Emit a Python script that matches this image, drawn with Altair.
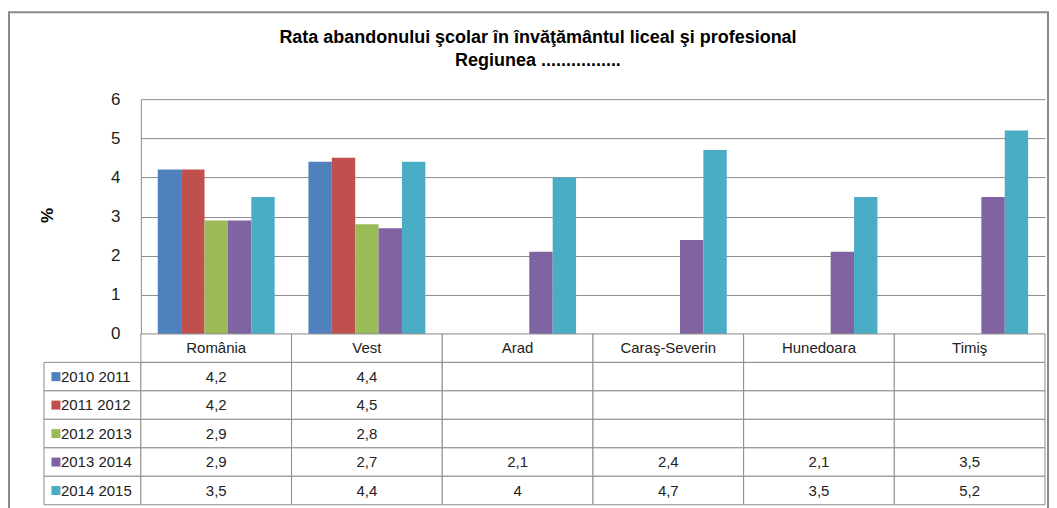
import altair as alt
import pandas as pd

regions = ["România", "Vest", "Arad", "Caraş-Severin", "Hunedoara", "Timiş"]
series = ["2010 2011", "2011 2012", "2012 2013", "2013 2014", "2014 2015"]
v_2010_2011 = [4.2, 4.4, None, None, None, None]
v_2011_2012 = [4.2, 4.5, None, None, None, None]
v_2012_2013 = [2.9, 2.8, None, None, None, None]
v_2013_2014 = [2.9, 2.7, 2.1, 2.4, 2.1, 3.5]
v_2014_2015 = [3.5, 4.4, 4, 4.7, 3.5, 5.2]
colors = ["#4F81BD", "#C0504D", "#9BBB59", "#8064A2", "#4BACC6"]
y_ticks = [0, 1, 2, 3, 4, 5, 6]
title_lines = ["Rata abandonului şcolar în învăţământul liceal şi profesional",
               "Regiunea ................"]

values = [v_2010_2011, v_2011_2012, v_2012_2013, v_2013_2014, v_2014_2015]
HEADER = "hdr"
row_keys = [HEADER] + series

records = []
for s, vals in zip(series, values):
    for r, v in zip(regions, vals):
        records.append({"region": r, "series": s, "value": v})
df = pd.DataFrame(records)

table_records = []
for r in regions:
    table_records.append({"region": r, "row": HEADER, "label": r})
for s, vals in zip(series, values):
    for r, v in zip(regions, vals):
        lab = "" if v is None else str(v).replace(".", ",")
        table_records.append({"region": r, "row": s, "label": lab})
table_df = pd.DataFrame(table_records)
legend_df = pd.DataFrame({"row": series, "series": series})

FONT = "Liberation Sans"
GRAY = "#8c8c8c"
PLOT_W = 905
PLOT_H = 235
LEG_W = 97
TABLE_H = 171

color_scale = alt.Scale(domain=series, range=colors)

# frame (decoration) in top-left cell
frame = alt.Chart(pd.DataFrame({"k": [0]})).mark_rect(
    fillOpacity=0, stroke="#8a8a8a", strokeWidth=2
).encode(
    x=alt.value(-35), x2=alt.value(1005), y=alt.value(-87), y2=alt.value(412)
).properties(width=LEG_W, height=PLOT_H)

bars = alt.Chart(df).transform_filter("isValid(datum.value)").mark_bar().encode(
    x=alt.X("region:N", sort=regions,
            scale=alt.Scale(domain=regions, paddingInner=0.224, paddingOuter=0.112),
            axis=None),
    xOffset=alt.XOffset("series:N", scale=alt.Scale(domain=series, paddingInner=0, paddingOuter=0)),
    y=alt.Y("value:Q", scale=alt.Scale(domain=[0, 6], nice=False),
            axis=alt.Axis(values=y_ticks, title="%", ticks=False, labelPadding=21,
                          labelFont=FONT, labelFontSize=17, labelColor="#222",
                          domainColor=GRAY, gridColor=GRAY, gridWidth=1,
                          titleFont=FONT, titleFontSize=17, titleFontWeight="bold",
                          titleColor="#000", titleX=-93, titleY=116, titleAngle=-90,
                          titleAlign="center", titleBaseline="middle")),
    color=alt.Color("series:N", scale=color_scale, legend=None),
).properties(
    width=PLOT_W, height=PLOT_H,
    title=alt.TitleParams(text=title_lines, anchor="middle", dx=-55, offset=20,
                          font="Liberation Sans Narrow, Arial Narrow, Liberation Sans",
                          fontSize=18, fontWeight="bold", color="#000", lineHeight=23),
)

leg_y = alt.Y("row:N", scale=alt.Scale(domain=row_keys, paddingInner=0, paddingOuter=0), axis=None)
leg_base = alt.Chart(legend_df)
legend = alt.layer(
    leg_base.mark_rect(fill="white", stroke=GRAY, strokeWidth=1).encode(
        x=alt.value(0), x2=alt.value(LEG_W), y=leg_y),
    leg_base.mark_square(size=81, opacity=1).encode(
        x=alt.value(12), y=leg_y,
        color=alt.Color("series:N", scale=color_scale, legend=None)),
    leg_base.mark_text(align="left", font=FONT, fontSize=15, color="#222").encode(
        x=alt.value(17), y=leg_y, text="series:N"),
).properties(width=LEG_W, height=TABLE_H)

tx = alt.X("region:N", sort=regions,
           scale=alt.Scale(domain=regions, paddingInner=0, paddingOuter=0), axis=None)
ty = alt.Y("row:N", scale=alt.Scale(domain=row_keys, paddingInner=0, paddingOuter=0), axis=None)
tbase = alt.Chart(table_df)
table = alt.layer(
    tbase.mark_rect(fill="white", stroke=GRAY, strokeWidth=1).encode(x=tx, y=ty),
    tbase.mark_text(font=FONT, fontSize=15, color="#222").encode(x=tx, y=ty, text="label:N"),
).properties(width=PLOT_W, height=TABLE_H)

chart = alt.concat(
    frame, bars, legend, table, columns=2, spacing=0, bounds="flush",
    padding={"left": 0, "top": 3, "right": 0, "bottom": 0},
).configure_view(strokeOpacity=0)

chart.save("out.html", embed_options={"renderer": "svg", "actions": False})
